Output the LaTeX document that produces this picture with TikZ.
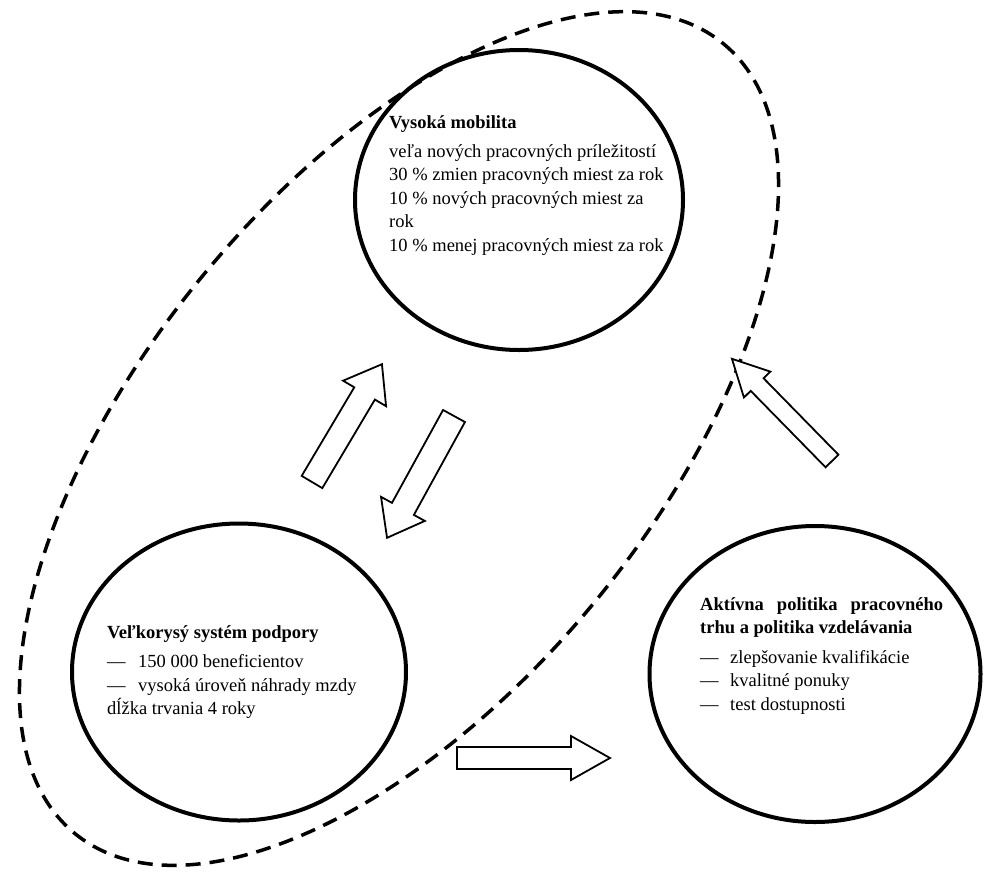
\documentclass[tikz,border=0pt]{standalone}
\usepackage{fontspec}
\setmainfont{Liberation Serif}
\usetikzlibrary{shapes.geometric}
% block arrow: #1 tail point, #2 angle, #3 length, #4 shaft width, #5 head width, #6 head length
\newcommand\blkarrow[6]{%
  \draw[blkline, shift={#1}, rotate=#2]
    (0,{-#4/2}) -- ({#3-#6},{-#4/2}) -- ({#3-#6},{-#5/2}) -- (#3,0)
    -- ({#3-#6},{#5/2}) -- ({#3-#6},{#4/2}) -- (0,{#4/2}) -- cycle;}
\begin{document}
\begin{tikzpicture}[x=1pt,y=-1pt,
  circ/.style={draw, ellipse, line width=4pt, inner sep=0pt},
  blkline/.style={draw, line width=1.8pt, fill=white, line join=miter},
  txt/.style={align=left, inner sep=0pt, anchor=north west,
    font=\fontsize{18.5pt}{23.5pt}\selectfont},
  dashell/.style={line width=3.5pt, dash pattern=on 15pt off 9pt}
]
\useasboundingbox (0,0) rectangle (985,871);

% dashed grouping ellipse
\draw[dashell, rotate around={50.6:(399,438.5)}] (399,438.5) ellipse [x radius=511, y radius=255];

% circles
\node[circ, minimum width=328pt, minimum height=300pt] (mob) at (519,200) {};
\node[circ, minimum width=334pt, minimum height=297pt] (sup) at (239,672) {};
\node[circ, minimum width=331pt, minimum height=296pt] (act) at (815,674) {};

% texts
\node[txt] (mobt) at (389,115) {\textbf{Vysoká mobilita}\\[5.5pt]
  veľa nových pracovných príležitostí\\
  30 \% zmien pracovných miest za rok\\
  10 \% nových pracovných miest za\\
  rok\\
  10 \% menej pracovných miest za rok};

\node[txt] (supt) at (107,625) {\textbf{Veľkorysý systém podpory}\\[6pt]
  \makebox[31pt][l]{—}150 000 beneficientov\\
  \makebox[31pt][l]{—}vysoká úroveň náhrady mzdy\\
  dĺžka trvania 4 roky};

\node[txt] (actt) at (700,597) {\textbf{\makebox[243pt][s]{Aktívna politika pracovného}}\\
  \textbf{trhu a politika vzdelávania}\\[6pt]
  \makebox[30pt][l]{—}zlepšovanie kvalifikácie\\
  \makebox[30pt][l]{—}kvalitné ponuky\\
  \makebox[30pt][l]{—}test dostupnosti};

% block arrows
\blkarrow{(312,482)}{59.3}{137}{24}{50}{34}
\blkarrow{(454,416)}{-118.8}{139}{25}{50}{33}
\blkarrow{(457,758)}{0}{153}{22}{44}{39}
\blkarrow{(832,461)}{134.4}{143}{18}{37}{36}
\end{tikzpicture}
\end{document}
